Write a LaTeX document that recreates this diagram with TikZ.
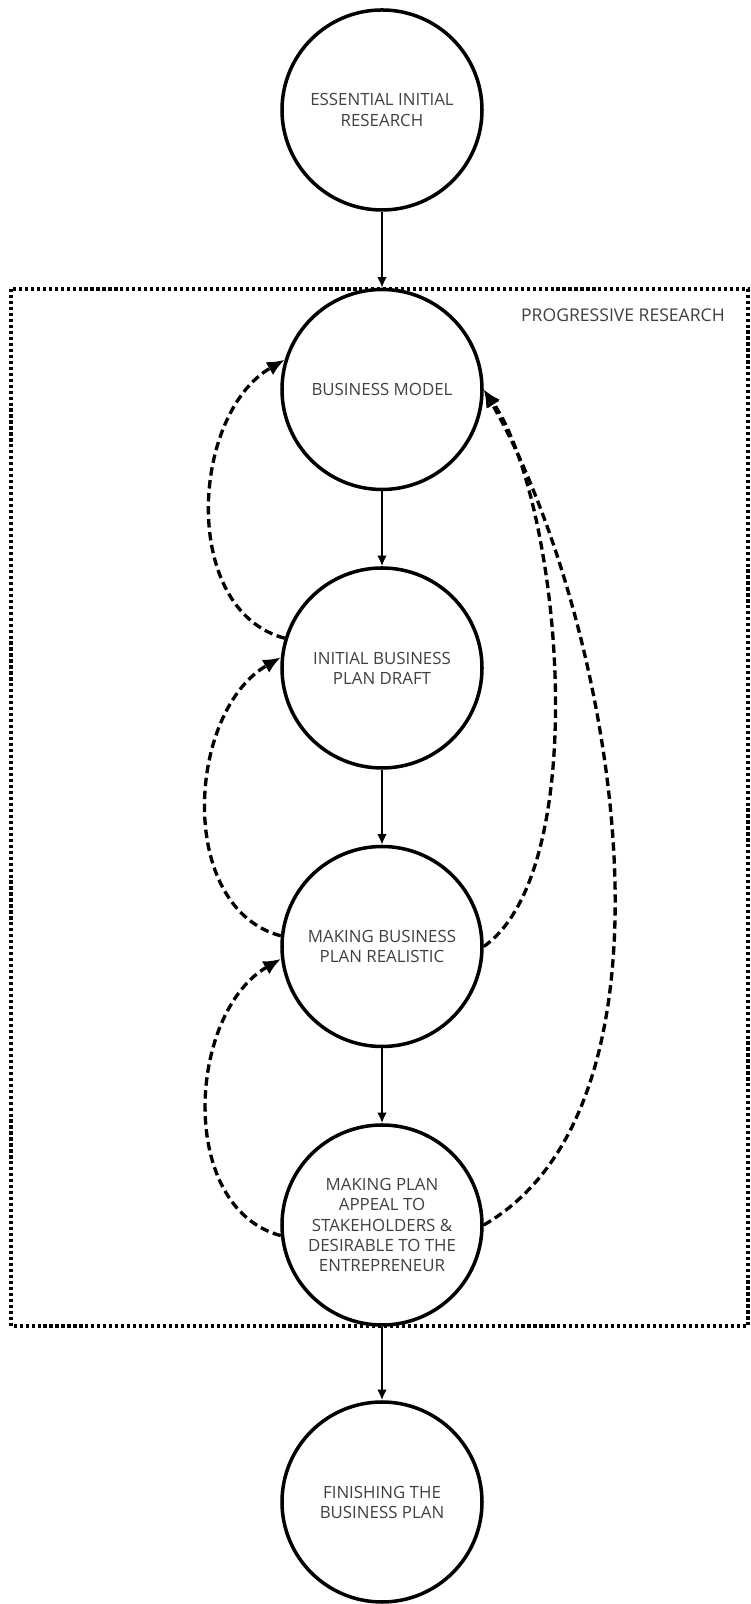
\documentclass[tikz,border=0pt]{standalone}
\usepackage{fontspec}
\setmainfont{Open Sans}
\usetikzlibrary{arrows.meta}

\begin{document}
\begin{tikzpicture}[
		stage/.style={circle, draw, line width=2pt, minimum size=4cm, inner sep=0pt, align=center, text=black!75, font=\fontsize{9.6}{11.4}\selectfont},
		flow/.style={line width=1.3pt, -{Latex[length=6pt,width=5.5pt]}},
		loopback/.style={line width=1.9pt, dash pattern=on 4.8pt off 2.6pt, -{Latex[length=10pt,width=8.5pt]}}
	]
		%%%%% START %%%%%
		\useasboundingbox (0, 0) rectangle (15.02, 32.08);
		
		\draw[line width=2pt, dash pattern=on 1.8pt off 1.6pt] (0.22, 26.30) rectangle (14.96, 5.56);
		\node[anchor=east, text=black!75, font=\fontsize{10}{12}\selectfont] (progressive) at (14.62, 25.78) {PROGRESSIVE RESEARCH};
		
		\node[stage] (essential) at (7.64, 29.88) {ESSENTIAL INITIAL\\RESEARCH};
		\node[stage] (model) at (7.64, 24.29) {BUSINESS MODEL};
		\node[stage] (draft) at (7.64, 18.72) {INITIAL BUSINESS\\PLAN DRAFT};
		\node[stage] (realistic) at (7.64, 13.15) {MAKING BUSINESS\\PLAN REALISTIC};
		\node[stage] (appeal) at (7.64, 7.58) {MAKING PLAN\\APPEAL TO\\STAKEHOLDERS \&\\DESIRABLE TO THE\\ENTREPRENEUR};
		\node[stage] (finishing) at (7.64, 2.04) {FINISHING THE\\BUSINESS PLAN};
		
		\draw[flow] (essential) -- (model);
		\draw[flow] (model) -- (draft);
		\draw[flow] (draft) -- (realistic);
		\draw[flow] (realistic) -- (appeal);
		\draw[flow] (appeal) -- (finishing);
		
		\draw[loopback] (draft.163) to[out=165, in=210] (model.163);
		\draw[loopback] (realistic.174) to[out=165, in=210] (draft.174);
		\draw[loopback] (appeal.186) to[out=165, in=210] (realistic.187);
		
		\draw[loopback] (realistic.east) to[out=35, in=-55, looseness=0.62] (model.east);
		\draw[loopback] (appeal.east) to[out=30, in=-60, looseness=0.77] (model.east);
		
		%%%%% END %%%%%
	\end{tikzpicture}
\end{document}
